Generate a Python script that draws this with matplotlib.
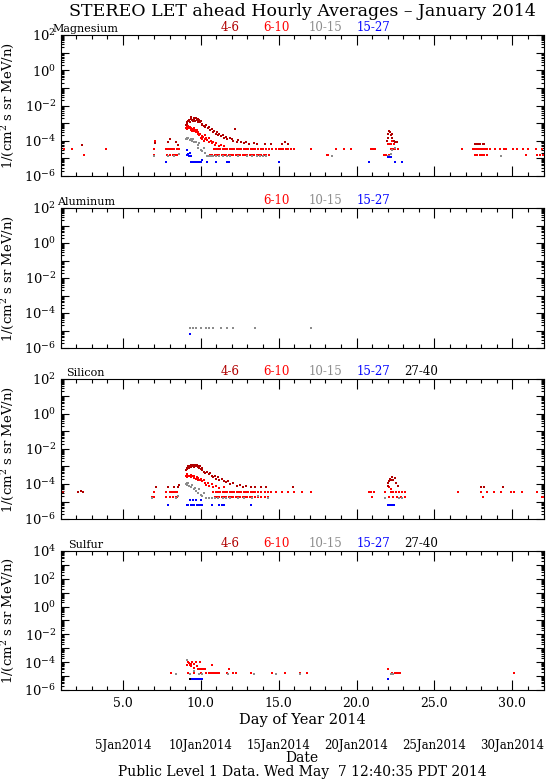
import matplotlib
matplotlib.use('Agg')
import matplotlib.pyplot as plt
import numpy as np
from matplotlib.ticker import FixedLocator, LogLocator, MultipleLocator, FuncFormatter, NullFormatter

plt.rcParams['font.family'] = 'DejaVu Serif'
plt.rcParams['mathtext.fontset'] = 'dejavuserif'

# energy channels (MeV/n) and their colours
chan_names = ['4-6', '6-10', '10-15', '15-27', '27-40']
chan_colors = ['#b00000', '#ff0000', '#8c8c8c', '#0000ff', '#000000']

# ---- Magnesium ----
mg_46 = [(2.4, 6e-5), (7.05, 7e-5), (7.9, 9e-5), (8.0, 1.2e-4), (8.4, 8e-5), (8.55, 6e-5),
         (9.05, 8e-4), (9.1, 1.1e-3), (9.15, 9e-4), (9.2, 1.3e-3), (9.25, 1.5e-3), (9.3, 1.2e-3),
         (9.35, 1.8e-3), (9.4, 2.2e-3), (9.45, 1.6e-3), (9.5, 1.4e-3), (9.55, 1.9e-3), (9.6, 1.7e-3),
         (9.65, 1.3e-3), (9.7, 2e-3), (9.75, 1.5e-3), (9.8, 1.8e-3), (9.85, 1.2e-3), (9.9, 1.6e-3),
         (9.95, 1.1e-3), (10.0, 1.3e-3), (10.05, 9e-4), (10.1, 8e-4), (10.2, 7e-4), (10.3, 6e-4),
         (10.35, 8e-4), (10.45, 5e-4), (10.55, 6e-4), (10.6, 4e-4), (10.7, 4.5e-4), (10.8, 3e-4),
         (10.85, 3.5e-4), (10.95, 2.5e-4), (11.05, 3e-4), (11.1, 2e-4), (11.2, 2.5e-4), (11.3, 1.8e-4),
         (11.4, 2e-4), (11.5, 1.5e-4), (11.6, 1.7e-4), (11.7, 1.3e-4), (11.85, 1.5e-4), (12.0, 1.2e-4),
         (12.1, 1e-4), (12.2, 4.4e-4), (12.3, 9e-5), (12.4, 1.1e-4), (12.6, 8e-5), (12.8, 7e-5),
         (12.9, 9e-5), (13.1, 6.5e-5), (13.4, 7e-5), (13.6, 6.5e-5), (14.1, 6.5e-5), (14.5, 6.5e-5),
         (15.2, 6.5e-5), (15.4, 9e-5), (15.6, 6.5e-5),
         (21.95, 1e-4), (22.0, 1.5e-4), (22.05, 2.5e-4), (22.1, 3.5e-4), (22.15, 3e-4), (22.2, 2e-4),
         (22.25, 2.5e-4), (22.3, 1.5e-4), (22.4, 1e-4), (22.5, 8e-5), (22.6, 9e-5),
         (27.6, 6.5e-5), (27.7, 6.5e-5), (27.8, 6.5e-5), (27.9, 6.5e-5), (28.1, 6.5e-5), (28.2, 6.5e-5)]
mg_610 = [(7.05, 1e-4), (9.05, 5e-4), (9.1, 6e-4), (9.15, 4.5e-4), (9.2, 7e-4), (9.25, 5e-4),
          (9.3, 6e-4), (9.35, 4e-4), (9.4, 5e-4), (9.45, 3.5e-4), (9.5, 4.5e-4), (9.55, 5e-4),
          (9.6, 3.5e-4), (9.65, 4e-4), (9.7, 3e-4), (9.75, 4e-4), (9.8, 2.5e-4), (9.85, 3e-4),
          (9.9, 2e-4), (9.95, 2.5e-4), (10.0, 1.5e-4), (10.05, 1.8e-4), (10.1, 1.2e-4), (10.15, 1.6e-4),
          (10.2, 1e-4), (10.25, 1.3e-4), (10.3, 2e-4), (10.35, 1.5e-4), (10.4, 1.1e-4), (10.5, 1.4e-4),
          (10.55, 9e-5), (10.65, 1e-4), (10.7, 7e-5), (10.8, 8e-5), (10.9, 6e-5), (11.0, 7e-5),
          (11.15, 5e-5), (11.3, 6e-5), (11.5, 5e-5),
          (22.0, 6.5e-5), (22.1, 6.5e-5), (22.2, 6.5e-5), (22.3, 1e-4), (22.4, 6.5e-5)]
mg_610_hi = 3.3e-5   # one-count level
mg_610_hi_days = [1.2, 1.75, 3.9, 7.0, 7.8, 7.9, 8.0, 8.15, 8.3, 8.5, 8.6, 10.85, 10.95, 11.1,
                  11.25, 11.4, 11.55, 11.7, 11.85, 12.0, 12.15, 12.3, 12.45, 12.6, 12.75, 12.9,
                  13.05, 13.2, 13.35, 13.5, 13.7, 13.85, 14.0, 14.2, 14.4, 14.6, 14.8, 15.0, 15.15,
                  15.3, 15.45, 15.6, 15.8, 16.0, 17.1, 18.7, 19.2, 19.65, 20.95, 21.05, 21.2, 22.2,
                  22.35, 22.5, 22.65, 26.8, 27.5, 27.6, 27.7, 27.85, 28.0, 28.1, 28.25, 28.4, 28.55,
                  28.9, 29.2, 29.45, 29.6, 30.05, 30.3, 30.7, 31.0, 31.5, 31.9]
mg_610_lo = 1.6e-5
mg_610_lo_days = [2.5, 7.0, 7.85, 8.05, 8.2, 8.35, 8.5, 10.6, 10.75, 10.9, 11.05, 11.2, 11.35, 11.5,
                  11.65, 11.8, 11.95, 12.1, 12.25, 12.4, 12.55, 12.7, 12.85, 13.0, 13.15, 13.3, 13.45,
                  13.6, 13.75, 13.9, 14.05, 14.2, 14.4, 18.1, 18.2, 21.75, 21.9, 22.1, 27.6, 27.75,
                  27.9, 28.05, 28.2, 28.35, 30.9, 31.6, 31.8, 31.95]
mg_1015 = [(7.0, 1.4e-5), (7.9, 1.4e-5), (8.3, 1.4e-5), (8.6, 1.8e-5), (9.05, 1.3e-4), (9.1, 1.5e-4),
           (9.15, 1.2e-4), (9.2, 1.4e-4), (9.3, 1.1e-4), (9.35, 1.3e-4), (9.45, 1e-4), (9.5, 1.2e-4),
           (9.6, 8e-5), (9.7, 9e-5), (9.8, 6e-5), (9.85, 4e-5), (9.9, 7e-5), (10.0, 3e-5),
           (10.05, 2.5e-5), (10.2, 4e-5), (10.25, 2e-5), (10.4, 1.4e-5), (10.5, 1.4e-5), (10.6, 1.4e-5),
           (10.7, 1.4e-5), (10.8, 1.4e-5), (11.0, 1.4e-5), (11.2, 1.4e-5), (11.4, 1.4e-5), (11.7, 1.4e-5),
           (11.9, 1.4e-5), (12.4, 1.4e-5), (13.0, 1.4e-5), (13.3, 1.4e-5), (13.6, 1.4e-5), (13.8, 1.4e-5),
           (14.0, 1.4e-5), (14.2, 1.4e-5), (18.4, 1.4e-5), (22.0, 1.4e-5), (22.1, 1.4e-5), (22.2, 1.8e-5),
           (22.3, 3e-5), (22.5, 4e-5), (29.3, 1.4e-5)]
mg_1527 = [(7.8, 6e-6), (9.1, 3e-5), (9.15, 1.5e-5), (9.2, 1.8e-5), (9.25, 1.3e-5), (9.3, 2e-5),
           (9.35, 1.3e-5), (9.4, 6e-6), (9.5, 6e-6), (9.6, 6e-6), (9.7, 6e-6), (9.8, 6e-6), (9.9, 6e-6),
           (10.0, 6e-6), (10.1, 8e-6), (10.4, 6e-6), (11.0, 6e-6), (11.7, 6e-6), (11.8, 6e-6),
           (15.0, 6e-6), (20.8, 6e-6), (22.0, 1.2e-5), (22.1, 1.2e-5), (22.15, 1.2e-5), (22.2, 1.2e-5),
           (22.5, 6e-6), (22.9, 6e-6)]

# ---- Aluminum ----
al_1015 = [(9.3, 1.4e-5), (9.5, 1.4e-5), (9.7, 1.4e-5), (10.0, 1.4e-5), (10.35, 1.4e-5),
           (10.55, 1.4e-5), (10.8, 1.4e-5), (11.3, 1.4e-5), (11.7, 1.4e-5), (12.1, 1.4e-5),
           (13.5, 1.4e-5), (17.1, 1.4e-5)]
al_1527 = [(9.3, 6e-6)]

# ---- Silicon ----
si_46 = [(1.05, 3.3e-5), (1.15, 3.3e-5), (2.1, 3.3e-5), (2.3, 3.8e-5), (2.45, 3.3e-5), (7.1, 7e-5),
         (7.9, 6.5e-5), (8.3, 6.5e-5), (8.55, 6.5e-5), (8.6, 9e-5),
         (9.05, 6e-4), (9.1, 8e-4), (9.15, 7e-4), (9.2, 1e-3), (9.25, 8e-4), (9.3, 1.1e-3), (9.35, 9e-4),
         (9.4, 1.2e-3), (9.45, 1e-3), (9.5, 1.3e-3), (9.55, 9e-4), (9.6, 1.1e-3), (9.65, 1.2e-3),
         (9.7, 1e-3), (9.75, 1.3e-3), (9.8, 9e-4), (9.85, 1.1e-3), (9.9, 8e-4), (9.95, 1e-3),
         (10.0, 7e-4), (10.05, 6e-4), (10.1, 8e-4), (10.2, 5e-4), (10.3, 4e-4), (10.4, 5e-4),
         (10.5, 3.5e-4), (10.6, 4e-4), (10.7, 3e-4), (10.8, 2.5e-4), (10.9, 3e-4), (11.0, 2e-4),
         (11.1, 2.5e-4), (11.2, 1.8e-4), (11.35, 2e-4), (11.5, 1.5e-4), (11.6, 1.3e-4), (11.75, 1.5e-4),
         (11.9, 1e-4), (12.1, 1.1e-4), (12.3, 8e-5), (12.5, 9e-5), (12.7, 7e-5), (12.9, 8e-5),
         (13.2, 6.5e-5), (13.5, 6.5e-5), (13.9, 6.5e-5), (14.2, 6.5e-5), (15.9, 6.5e-5),
         (22.0, 8e-5), (22.05, 1.2e-4), (22.1, 1.5e-4), (22.15, 2e-4), (22.2, 1.6e-4), (22.25, 2.5e-4),
         (22.35, 1.8e-4), (22.45, 2.2e-4), (22.55, 1.2e-4), (22.65, 8e-5),
         (28.0, 6.5e-5), (28.2, 6.5e-5), (29.4, 6.5e-5)]
si_610 = [(9.05, 3e-4), (9.1, 3.5e-4), (9.15, 2.5e-4), (9.2, 3e-4), (9.3, 2.8e-4), (9.35, 3.2e-4),
          (9.4, 2.5e-4), (9.5, 3e-4), (9.55, 2.2e-4), (9.6, 2.8e-4), (9.7, 2e-4), (9.75, 2.4e-4),
          (9.8, 1.8e-4), (9.85, 2.2e-4), (9.95, 1.6e-4), (10.0, 2e-4), (10.1, 1.4e-4), (10.2, 1.7e-4),
          (10.3, 1.2e-4), (10.35, 9e-5), (10.45, 1.1e-4), (10.55, 8e-5), (10.7, 1e-4), (10.8, 7e-5),
          (11.0, 8e-5), (11.2, 6e-5), (11.5, 7e-5), (22.1, 6.5e-5), (22.2, 5e-5)]
si_610_hi = 3.4e-5
si_610_hi_days = [7.0, 7.8, 8.0, 8.1, 8.2, 8.35, 8.5, 10.8, 10.95, 11.1, 11.25, 11.4, 11.55, 11.7,
                  11.85, 12.0, 12.15, 12.3, 12.45, 12.6, 12.75, 12.9, 13.05, 13.2, 13.35, 13.5, 13.7,
                  13.9, 14.1, 14.3, 14.5, 14.8, 15.2, 15.6, 16.0, 16.5, 17.1, 20.8, 20.95, 21.1, 21.8,
                  22.2, 22.35, 22.55, 22.75, 22.95, 23.1, 26.5, 28.0, 28.4, 28.8, 29.3, 29.9, 30.1,
                  30.6, 31.6]
si_610_lo = 1.8e-5
si_610_lo_days = [6.9, 7.0, 7.8, 8.0, 8.2, 8.4, 8.5, 10.9, 11.05, 11.2, 11.35, 11.5, 11.65, 11.8,
                  11.95, 12.1, 12.25, 12.4, 12.55, 12.7, 12.85, 13.0, 13.15, 13.3, 13.5, 13.7, 13.9,
                  14.1, 14.3, 21.0, 22.1, 22.35, 22.6, 22.85, 23.1, 28.1, 31.9, 32.0]
si_1015 = [(6.9, 1.5e-5), (8.4, 1.5e-5), (8.55, 2e-5), (9.05, 1e-4), (9.1, 1.2e-4), (9.15, 9e-5),
           (9.2, 1.1e-4), (9.25, 8e-5), (9.35, 7e-5), (9.45, 9e-5), (9.55, 5e-5), (9.65, 6e-5),
           (9.7, 4e-5), (9.8, 3e-5), (9.9, 5e-5), (10.0, 2.5e-5), (10.1, 2e-5), (10.2, 3e-5),
           (10.35, 1.5e-5), (10.5, 1.5e-5), (10.7, 1.5e-5), (10.9, 1.5e-5), (11.1, 1.5e-5),
           (11.4, 1.5e-5), (11.6, 1.5e-5), (11.9, 1.5e-5), (12.4, 1.5e-5), (12.8, 1.5e-5),
           (13.3, 1.5e-5), (13.7, 2e-5), (14.3, 1.5e-5), (21.8, 1.5e-5), (22.7, 1.5e-5), (22.9, 1.5e-5)]
si_1527 = [(7.9, 6e-6), (9.15, 6e-6), (9.2, 6e-6), (9.3, 1.3e-5), (9.35, 6e-6), (9.45, 6e-6),
           (9.5, 1.2e-5), (9.55, 6e-6), (9.6, 6e-6), (9.7, 1.3e-5), (9.75, 6e-6), (9.85, 6e-6),
           (9.95, 6e-6), (10.0, 1.3e-5), (10.1, 6e-6), (10.75, 6e-6), (11.2, 6e-6), (11.35, 6e-6),
           (11.5, 6e-6), (13.2, 6e-6), (22.0, 6e-6), (22.1, 6e-6), (22.2, 6e-6), (22.3, 6e-6), (22.4, 6e-6)]

# ---- Sulfur ----
s_610 = [(9.1, 6e-5), (9.2, 1.1e-4), (9.25, 9e-5), (9.3, 6e-5), (9.35, 8e-5), (9.4, 5e-5),
         (9.45, 1e-4), (9.55, 4e-5), (9.6, 7e-5), (9.7, 1.1e-4), (9.75, 5e-5), (9.8, 3.3e-5),
         (9.9, 3.3e-5), (9.95, 1.1e-4), (10.0, 3.3e-5), (10.1, 3.3e-5), (10.2, 3.3e-5), (10.3, 3.3e-5),
         (10.7, 6e-5), (11.8, 3.3e-5), (22.0, 3.3e-5)]
s_610_lo = 1.6e-5
s_610_lo_days = [8.1, 9.2, 9.6, 10.0, 10.35, 10.5, 10.6, 10.7, 10.8, 10.9, 11.0, 11.1, 11.2, 11.7,
                 12.1, 12.25, 13.2, 14.6, 15.4, 16.4, 16.8, 22.3, 22.45, 22.6, 22.7, 22.8, 30.1]
s_1015 = [(8.4, 1.4e-5), (9.1, 1.4e-4), (9.3, 1.4e-5), (9.55, 2.5e-5), (9.9, 1.4e-5), (10.05, 1.4e-5),
          (11.75, 1.4e-5), (13.4, 1.4e-5), (14.8, 1.4e-5), (16.35, 1.4e-5), (22.2, 1.4e-5), (22.35, 1.4e-5)]
s_1527 = [(1.05, 6e-6), (9.4, 6e-6), (9.5, 6e-6), (9.6, 6e-6), (9.7, 6e-6), (9.8, 6e-6), (9.9, 6e-6),
          (10.0, 6e-6), (10.1, 6e-6), (22.05, 6e-6)]
s_2740 = [(9.3, 6e-6)]

# x tick values and date strings along the bottom
day_ticks = [5.0, 10.0, 15.0, 20.0, 25.0, 30.0]
date_labels = ['5Jan2014', '10Jan2014', '15Jan2014', '20Jan2014', '25Jan2014', '30Jan2014']

W, H = 546, 780
fig = plt.figure(figsize=(W / 100, H / 100), dpi=100)
x0, x1 = 60.5, 543.5


def pairs(lst):
    a = np.array(lst)
    return a[:, 0], a[:, 1]


def make_axes(top, bottom):
    return fig.add_axes([x0 / W, 1 - bottom / H, (x1 - x0) / W, (bottom - top) / H])


def style_axes(ax, ymax, name, name_x, chans, bottom_labels=False):
    ax.set_xlim(1, 32)
    ax.set_yscale('log')
    ax.set_ylim(1e-6, ymax)
    e_max = int(round(np.log10(ymax)))
    ax.yaxis.set_major_locator(FixedLocator([10.0 ** e for e in range(-6, e_max + 1)]))
    ax.yaxis.set_minor_locator(LogLocator(base=10, subs=np.arange(2, 10), numticks=20))
    ax.yaxis.set_minor_formatter(NullFormatter())
    ax.yaxis.set_major_formatter(FuncFormatter(
        lambda v, p: '$10^{%d}$' % round(np.log10(v)) if round(np.log10(v)) % 2 == 0 else ''))
    ax.xaxis.set_major_locator(FixedLocator(day_ticks))
    ax.xaxis.set_minor_locator(MultipleLocator(1))
    if bottom_labels:
        ax.xaxis.set_major_formatter(FuncFormatter(lambda v, p: '%.1f' % v))
    else:
        ax.xaxis.set_major_formatter(NullFormatter())
    ax.tick_params(axis='both', which='both', direction='in', top=True, right=True, width=0.8)
    ax.tick_params(axis='y', which='major', length=6, labelsize=9.5, pad=3)
    ax.tick_params(axis='y', which='minor', length=2.5)
    ax.tick_params(axis='x', which='major', length=7.5, labelsize=9, pad=5)
    ax.tick_params(axis='x', which='minor', length=3)
    for sp in ax.spines.values():
        sp.set_linewidth(0.8)
    ax.set_ylabel('1/(cm$^2$ s sr MeV/n)', fontsize=9.5)
    ax.yaxis.set_label_coords(-(x0 - 16) / (x1 - x0), 0.5)
    ax.text((name_x - x0) / (x1 - x0), 1.01, name, transform=ax.transAxes,
            fontsize=8, ha='left', va='bottom')
    legend_px = [230, 276, 326, 373, 421]
    for i in chans:
        ax.text((legend_px[i] - x0) / (x1 - x0), 1.01, chan_names[i], transform=ax.transAxes,
                fontsize=8.5, ha='center', va='bottom', color=chan_colors[i])


def dots(ax, x, y, ci):
    ax.plot(x, y, 's', ms=1.9, mew=0, color=chan_colors[ci], clip_on=True)


# Magnesium
ax1 = make_axes(35, 176)
dots(ax1, *pairs(mg_610), 1)
dots(ax1, mg_610_hi_days, np.full(len(mg_610_hi_days), mg_610_hi), 1)
dots(ax1, mg_610_lo_days, np.full(len(mg_610_lo_days), mg_610_lo), 1)
dots(ax1, *pairs(mg_1015), 2)
dots(ax1, *pairs(mg_1527), 3)
dots(ax1, *pairs(mg_46), 0)
style_axes(ax1, 1e2, 'Magnesium', 52, [0, 1, 2, 3])

# Aluminum
ax2 = make_axes(208, 348)
dots(ax2, *pairs(al_1015), 2)
dots(ax2, *pairs(al_1527), 3)
style_axes(ax2, 1e2, 'Aluminum', 57, [1, 2, 3])

# Silicon
ax3 = make_axes(379, 519)
dots(ax3, *pairs(si_610), 1)
dots(ax3, si_610_hi_days, np.full(len(si_610_hi_days), si_610_hi), 1)
dots(ax3, si_610_lo_days, np.full(len(si_610_lo_days), si_610_lo), 1)
dots(ax3, *pairs(si_1015), 2)
dots(ax3, *pairs(si_1527), 3)
dots(ax3, *pairs(si_46), 0)
style_axes(ax3, 1e2, 'Silicon', 66, [0, 1, 2, 3, 4])

# Sulfur
ax4 = make_axes(551, 690)
dots(ax4, *pairs(s_610), 1)
dots(ax4, s_610_lo_days, np.full(len(s_610_lo_days), s_610_lo), 1)
dots(ax4, *pairs(s_1015), 2)
dots(ax4, *pairs(s_1527), 3)
dots(ax4, *pairs(s_2740), 4)
style_axes(ax4, 1e4, 'Sulfur', 68, [0, 1, 2, 3, 4], bottom_labels=True)

xc = (x0 + x1) / 2 / W
fig.text(xc, 1 - 720 / H, 'Day of Year 2014', ha='center', va='center', fontsize=10.5)
for d, lab in zip(day_ticks, date_labels):
    px = x0 + (d - 1) / 31 * (x1 - x0)
    fig.text(px / W, 1 - 745 / H, lab, ha='center', va='center', fontsize=8.5)
fig.text(xc, 1 - 758 / H, 'Date', ha='center', va='center', fontsize=10)
fig.text(xc, 1 - 772 / H, 'Public Level 1 Data. Wed May  7 12:40:35 PDT 2014',
         ha='center', va='center', fontsize=10)
fig.text(xc, 1 - 11 / H, 'STEREO LET ahead Hourly Averages \u2013 January 2014',
         ha='center', va='center', fontsize=12.5)

fig.savefig('out.png', dpi=100)
